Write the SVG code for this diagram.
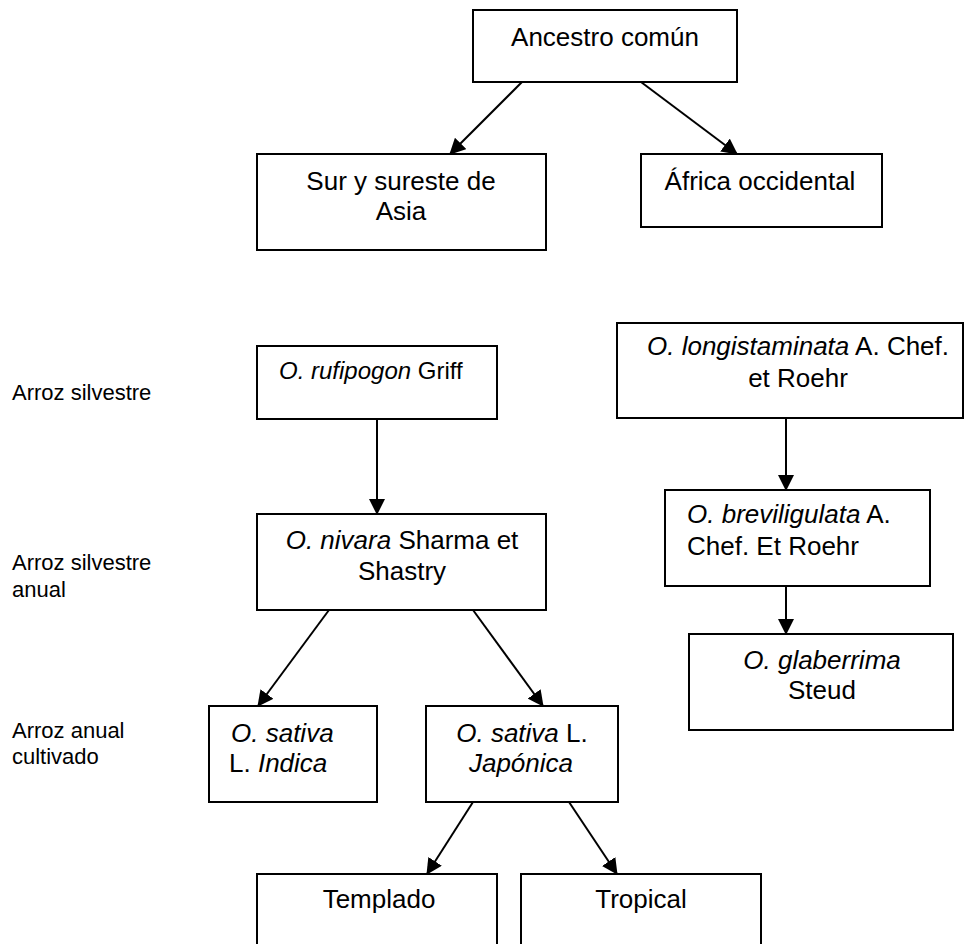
<svg xmlns="http://www.w3.org/2000/svg" width="966" height="944" viewBox="0 0 966 944">
<style>
.box{fill:#fff;stroke:#000;stroke-width:2}
.t{font-family:"Liberation Sans",Arial,sans-serif;font-size:26px;fill:#000}
.c{text-anchor:middle}
.lab{font-family:"Liberation Sans",Arial,sans-serif;font-size:22px;fill:#000}
.i{font-style:italic}
.con line{stroke:#000;stroke-width:2}
</style>
<defs>
<marker id="ah" markerUnits="userSpaceOnUse" markerWidth="16" markerHeight="16" refX="15" refY="8" orient="auto">
<path d="M0,0 L16,8 L0,16 z" fill="#000"/>
</marker>
</defs>
<rect width="966" height="944" fill="#fff"/>
<g id="labels">
<text class="lab" x="12" y="400">Arroz silvestre</text>
<text class="lab" x="12" y="570">Arroz silvestre</text>
<text class="lab" x="12" y="597">anual</text>
<text class="lab" x="12" y="738">Arroz anual</text>
<text class="lab" x="12" y="764">cultivado</text>
</g>
<g class="con" id="connectors">
<line x1="522" y1="82" x2="450" y2="154" marker-end="url(#ah)"/>
<line x1="641" y1="82" x2="737" y2="154" marker-end="url(#ah)"/>
<line x1="377" y1="419" x2="377" y2="514" marker-end="url(#ah)"/>
<line x1="786" y1="418" x2="786" y2="490" marker-end="url(#ah)"/>
<line x1="786" y1="586" x2="786" y2="634" marker-end="url(#ah)"/>
<line x1="329" y1="610" x2="258" y2="706" marker-end="url(#ah)"/>
<line x1="473" y1="610" x2="543" y2="706" marker-end="url(#ah)"/>
<line x1="473" y1="802" x2="427" y2="874" marker-end="url(#ah)"/>
<line x1="569" y1="802" x2="617" y2="874" marker-end="url(#ah)"/>
</g>
<g id="ancestro">
<rect class="box" x="473" y="10" width="264" height="72"/>
<text class="t c" x="605" y="46">Ancestro común</text>
</g>
<g id="sur">
<rect class="box" x="257" y="154" width="289" height="96"/>
<text class="t c" x="401" y="190">Sur y sureste de</text>
<text class="t c" x="401" y="220">Asia</text>
</g>
<g id="africa">
<rect class="box" x="641" y="154" width="241" height="73"/>
<text class="t c" x="760" y="190">África occidental</text>
</g>
<g id="rufipogon">
<rect class="box" x="257" y="346" width="240" height="73"/>
<text class="t" x="279" y="379" style="font-size:24px"><tspan class="i">O. rufipogon</tspan> Griff</text>
</g>
<g id="longistaminata">
<rect class="box" x="617" y="323" width="346" height="95"/>
<text class="t c" x="798" y="355"><tspan class="i">O. longistaminata</tspan> A. Chef.</text>
<text class="t c" x="798" y="387">et Roehr</text>
</g>
<g id="nivara">
<rect class="box" x="257" y="514" width="289" height="96"/>
<text class="t c" x="402" y="549"><tspan class="i">O. nivara</tspan> Sharma et</text>
<text class="t c" x="402" y="580">Shastry</text>
</g>
<g id="breviligulata">
<rect class="box" x="665" y="490" width="265" height="96"/>
<text class="t" x="687" y="523"><tspan class="i">O. breviligulata</tspan> A.</text>
<text class="t" x="687" y="555">Chef. Et Roehr</text>
</g>
<g id="glaberrima">
<rect class="box" x="689" y="634" width="264" height="96"/>
<text class="t c i" x="822" y="669">O. glaberrima</text>
<text class="t c" x="822" y="699">Steud</text>
</g>
<g id="indica">
<rect class="box" x="209" y="706" width="168" height="96"/>
<text class="t i" x="231" y="742">O. sativa</text>
<text class="t" x="229" y="772">L. <tspan class="i">Indica</tspan></text>
</g>
<g id="japonica">
<rect class="box" x="426" y="706" width="192" height="96"/>
<text class="t c" x="522" y="742"><tspan class="i">O. sativa</tspan> L.</text>
<text class="t c i" x="521" y="772">Japónica</text>
</g>
<g id="templado">
<rect class="box" x="257" y="874" width="240" height="90"/>
<text class="t c" x="379" y="908">Templado</text>
</g>
<g id="tropical">
<rect class="box" x="521" y="874" width="240" height="90"/>
<text class="t c" x="641" y="908">Tropical</text>
</g>
</svg>
